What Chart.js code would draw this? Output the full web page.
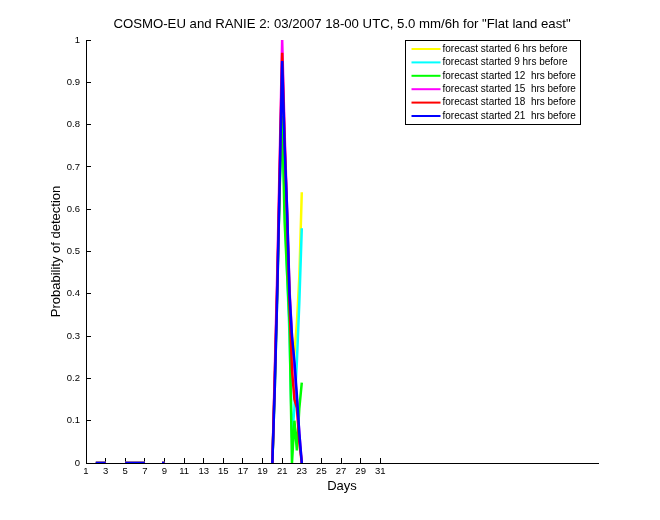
<!DOCTYPE html>
<html>
<head>
<meta charset="utf-8">
<script src="https://cdn.jsdelivr.net/npm/chart.js@4.4.1/dist/chart.umd.min.js"></script>
<style>
  html, body { margin: 0; padding: 0; background: #fff; }
  #wrap { width: 660px; height: 520px; }
</style>
</head>
<body>
<div id="wrap"><canvas id="podChart" width="660" height="520"></canvas></div>
<script>
// Probability of detection, 6-hourly, March 2007 (null = no value)
const days = [2, 2.25, 2.5, 2.75, 3, 4, 5, 5.25, 5.5, 5.75, 6, 6.25, 6.5, 6.75, 7, 8, 8.75, 9, 19,
  20, 20.25, 20.5, 20.75, 21, 21.25, 21.5, 21.75, 22, 22.25, 22.5, 22.75, 23];

const fc6h  = [0, 0, 0, 0, 0, null, 0, 0, 0, 0, 0, 0, 0, 0, 0, null, 0, 0, null,
  0, 0.18, 0.40, 0.67, 0.90, 0.74, 0.58, 0.40, 0.28, 0.26, 0.33, 0.44, 0.64];
const fc9h  = [0, 0, 0, 0, 0, null, 0, 0, 0, 0, 0, 0, 0, 0, 0, null, 0, 0, null,
  0, 0.18, 0.40, 0.66, 0.86, 0.62, 0.45, 0.30, 0.06, 0.13, 0.24, 0.38, 0.555];
const fc12h = [0, 0, 0, 0, 0, null, 0, 0, 0, 0, 0, 0, 0, 0, 0, null, 0, 0, null,
  0, 0.20, 0.42, 0.65, 0.82, 0.57, 0.45, 0.33, 0.00, 0.10, 0.03, 0.13, 0.19];
const fc15h = [0, 0, 0, 0, 0, null, 0, 0, 0, 0, 0, 0, 0, 0, 0, null, 0, 0, null,
  0, 0.22, 0.45, 0.72, 1.00, 0.78, 0.60, 0.41, 0.30, 0.22, 0.15, 0.07, 0];
const fc18h = [0, 0, 0, 0, 0, null, 0, 0, 0, 0, 0, 0, 0, 0, 0, null, 0, 0, null,
  0, 0.20, 0.42, 0.69, 0.97, 0.76, 0.58, 0.38, 0.22, 0.15, 0.13, 0.05, 0];
const fc21h = [0, 0, 0, 0, 0, null, 0, 0, 0, 0, 0, 0, 0, 0, 0, null, 0, 0, null,
  0, 0.18, 0.40, 0.67, 0.95, 0.75, 0.60, 0.40, 0.30, 0.24, 0.16, 0.07, 0];

const xTicks = [1, 3, 5, 7, 9, 11, 13, 15, 17, 19, 21, 23, 25, 27, 29, 31];
const yTicks = [0, 0.1, 0.2, 0.3, 0.4, 0.5, 0.6, 0.7, 0.8, 0.9, 1];

const legendLabels = [
  'forecast started 6 hrs before',
  'forecast started 9 hrs before',
  'forecast started 12  hrs before',
  'forecast started 15  hrs before',
  'forecast started 18  hrs before',
  'forecast started 21  hrs before'
];
const seriesValues = [fc6h, fc9h, fc12h, fc15h, fc18h, fc21h];
const seriesColors = ['#ffff00', '#00ffff', '#00ff00', '#ff00ff', '#ff0000', '#0000ff'];

const FONT = '"Liberation Sans", Arial, Helvetica, sans-serif';

function toPoints(vals) {
  return days.map((d, i) => ({ x: d, y: vals[i] }));
}

// first dataset is drawn on top, so put the 21 h run first
const datasets = [];
for (let i = seriesValues.length - 1; i >= 0; i--) {
  datasets.push({
    label: legendLabels[i],
    data: toPoints(seriesValues[i]),
    borderColor: seriesColors[i],
    backgroundColor: seriesColors[i],
    borderWidth: 2.5,
    pointRadius: 0,
    tension: 0,
    spanGaps: false
  });
}

// title centred over the plot area, like the original figure
const titlePlugin = {
  id: 'plotTitle',
  afterDraw(chart) {
    const { ctx, chartArea } = chart;
    ctx.save();
    ctx.fillStyle = '#000';
    ctx.font = '13.2px ' + FONT;
    ctx.textAlign = 'center';
    ctx.textBaseline = 'middle';
    ctx.fillText('COSMO-EU and RANIE 2: 03/2007 18-00 UTC, 5.0 mm/6h for "Flat land east"',
      (chartArea.left + chartArea.right) / 2, 24);
    ctx.restore();
  }
};

// boxed legend in the upper right corner of the axes
const legendPlugin = {
  id: 'boxLegend',
  afterDraw(chart) {
    const { ctx, chartArea } = chart;
    const w = 175, h = 84;
    const x0 = chartArea.right - 192.5, y0 = chartArea.top + 0.5;
    ctx.save();
    ctx.fillStyle = '#fff';
    ctx.fillRect(x0, y0, w, h);
    ctx.strokeStyle = '#000';
    ctx.lineWidth = 1;
    ctx.strokeRect(x0, y0, w, h);
    ctx.font = '10px ' + FONT;
    ctx.textBaseline = 'middle';
    ctx.textAlign = 'left';
    legendLabels.forEach((lab, i) => {
      const y = y0 + 8.5 + i * 13.4;
      ctx.strokeStyle = seriesColors[i];
      ctx.lineWidth = 2;
      ctx.beginPath();
      ctx.moveTo(x0 + 6, y);
      ctx.lineTo(x0 + 35, y);
      ctx.stroke();
      ctx.fillStyle = '#000';
      ctx.fillText(lab, x0 + 37, y);
    });
    ctx.restore();
  }
};

const ctx = document.getElementById('podChart').getContext('2d');
new Chart(ctx, {
  type: 'line',
  data: { datasets },
  options: {
    responsive: false,
    animation: false,
    devicePixelRatio: 1,
    layout: { padding: { top: 40, right: 62, left: 0, bottom: 0 } },
    plugins: {
      legend: { display: false },
      tooltip: { enabled: false },
      title: { display: false }
    },
    scales: {
      x: {
        type: 'linear',
        min: 1,
        max: 53.2,
        afterBuildTicks: (s) => { s.ticks = xTicks.map(v => ({ value: v })); },
        afterFit: (s) => { s.height = 57; },
        grid: { drawOnChartArea: false, tickLength: -5, color: '#000', tickColor: '#000' },
        border: { display: true, color: '#000', width: 1 },
        ticks: {
          color: '#000',
          padding: 8,
          maxRotation: 0,
          autoSkip: false,
          font: { family: FONT, size: 9.5 }
        },
        title: {
          display: true,
          text: 'Days',
          color: '#000',
          font: { family: FONT, size: 13 },
          padding: { top: 0, bottom: 26 }
        }
      },
      y: {
        min: 0,
        max: 1,
        afterBuildTicks: (s) => { s.ticks = yTicks.map(v => ({ value: v })); },
        afterFit: (s) => { s.width = 86; },
        grid: { drawOnChartArea: false, tickLength: -5, color: '#000', tickColor: '#000' },
        border: { display: true, color: '#000', width: 1 },
        ticks: {
          color: '#000',
          padding: 11,
          autoSkip: false,
          font: { family: FONT, size: 9.5 },
          callback: (v) => String(Number(v.toFixed(1)))
        },
        title: {
          display: true,
          text: 'Probability of detection',
          color: '#000',
          font: { family: FONT, size: 13 },
          padding: { top: 49, bottom: 0 }
        }
      }
    }
  },
  plugins: [titlePlugin, legendPlugin]
});
</script>
</body>
</html>
